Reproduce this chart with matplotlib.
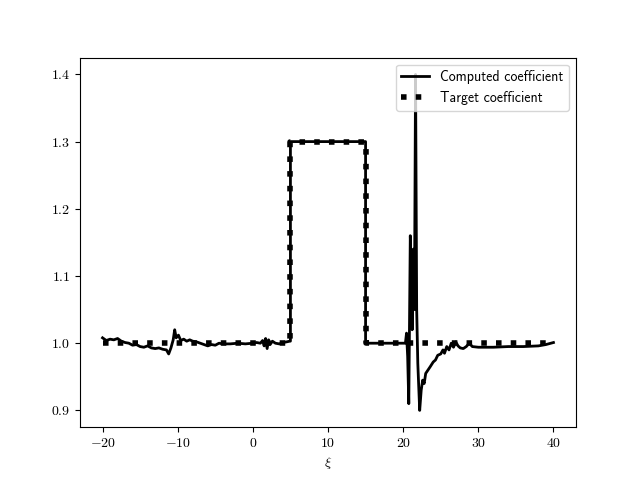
import numpy as np
import matplotlib
matplotlib.use("Agg")
import matplotlib.pyplot as plt

plt.rcParams["font.family"] = "serif"
plt.rcParams["font.serif"] = ["cmr10"]
plt.rcParams["mathtext.fontset"] = "cm"
plt.rcParams["axes.formatter.use_mathtext"] = True

# computed coefficient
xi_computed = [
    -20, -19.5, -19, -18.5, -18, -17.5, -17, -16.5, -16, -15.5, -15, -14.5,
    -14, -13.5, -13, -12.5, -12, -11.5, -11.2, -10.9, -10.6, -10.4, -10.2,
    -9.9, -9.6, -9.2, -8.8, -8.4, -8, -7.5, -7, -6.5, -6, -5.5, -5, -4.5, -4,
    -3, -2, -1, 0, 0.5, 1, 1.3, 1.5, 1.7, 1.9, 2.1, 2.3, 2.6, 3, 3.5, 4, 4.5,
    4.9, 5.0, 5.0, 15.0, 15.0, 15.5, 17, 18.5, 20.0, 20.3, 20.45, 20.6, 20.75,
    20.95, 21.1, 21.2, 21.35, 21.5, 21.65, 21.8, 21.95, 22.2, 22.4, 22.6, 22.8,
    23.0, 23.3, 23.6, 24.0, 24.3, 24.6, 25.0, 25.3, 25.5, 25.8, 26.1, 26.4,
    26.7, 27.0, 27.3, 27.6, 28.0, 28.4, 28.8, 29.2, 30, 32, 34, 36, 38, 39, 40,
]
coef_computed = [
    1.008, 1.004, 1.006, 1.005, 1.007, 1.003, 1.001, 1.000, 0.997, 0.998,
    0.995, 0.994, 0.996, 0.993, 0.992, 0.993, 0.991, 0.990, 0.984, 0.993,
    1.005, 1.020, 1.008, 1.012, 1.004, 1.006, 1.003, 1.005, 1.003, 1.002,
    1.000, 0.998, 0.996, 0.998, 0.997, 1.000, 0.999, 0.999, 1.000, 0.999,
    1.000, 1.001, 1.000, 1.004, 0.996, 1.007, 0.992, 1.005, 0.998, 1.003,
    1.000, 0.999, 1.001, 1.002, 1.003, 1.003, 1.300, 1.300, 1.000, 1.000,
    1.000, 1.000, 1.000, 1.000, 1.015, 0.980, 0.910, 1.160, 1.100, 1.020,
    1.140, 1.050, 1.400, 1.050, 0.970, 0.900, 0.930, 0.945, 0.940, 0.955,
    0.960, 0.965, 0.972, 0.975, 0.982, 0.984, 0.990, 0.985, 0.995, 0.990,
    1.000, 0.994, 1.002, 0.996, 0.993, 0.992, 0.995, 1.000, 0.995, 0.994,
    0.994, 0.995, 0.995, 0.996, 0.998, 1.001,
]

# target coefficient: piecewise constant
xi_target = [-20, 5, 5, 15, 15, 40]
coef_target = [1.0, 1.0, 1.3, 1.3, 1.0, 1.0]

fig, ax = plt.subplots(figsize=(6.4, 4.8), dpi=100)
ax.plot(xi_computed, coef_computed, color="k", linewidth=2, label="Computed coefficient")
ax.plot(xi_target, coef_target, color="k", linestyle=":", linewidth=4, label="Target coefficient")

ax.set_xlabel(r"$\xi$")
ax.legend(loc="upper right", prop={"family": "cmss10"})

fig.savefig("out.png", dpi=100)
